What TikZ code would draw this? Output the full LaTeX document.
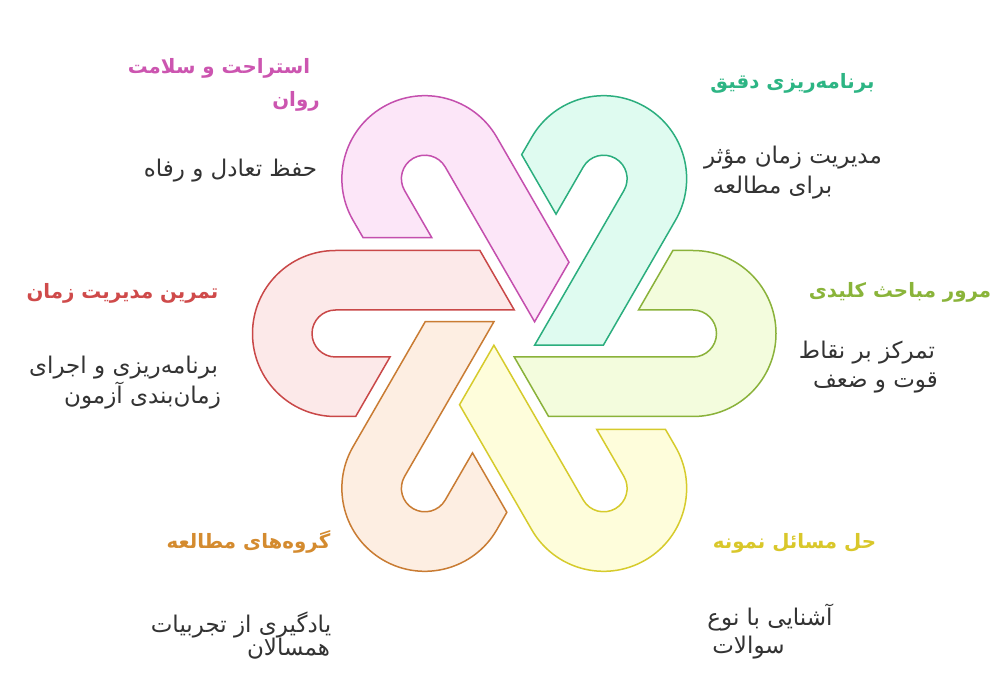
\documentclass[tikz,border=0pt]{standalone}
\usepackage{fontspec}
\newfontfamily\arabicfont[Script=Arabic]{DejaVu Sans}
\TeXXeTstate=1
\definecolor{pinkD}{HTML}{C44FAE}\definecolor{pinkF}{HTML}{FCE6F8}\definecolor{pinkT}{HTML}{CC55B0}
\definecolor{tealD}{HTML}{2BAE7E}\definecolor{tealF}{HTML}{DFFBF0}\definecolor{tealT}{HTML}{2DB584}
\definecolor{limeD}{HTML}{8AB23A}\definecolor{limeF}{HTML}{F3FCDD}\definecolor{limeT}{HTML}{8AB43A}
\definecolor{yelD}{HTML}{D6CB2C}\definecolor{yelF}{HTML}{FEFDDB}\definecolor{yelT}{HTML}{D9C72A}
\definecolor{oraD}{HTML}{C97C33}\definecolor{oraF}{HTML}{FDEEE2}\definecolor{oraT}{HTML}{D48B2F}
\definecolor{redD}{HTML}{C94848}\definecolor{redF}{HTML}{FCE9E9}\definecolor{redT}{HTML}{CF4A4A}
\definecolor{descC}{HTML}{333333}
\tikzset{
  hookband/.style={line width=1.5pt, line join=miter},
  ttl/.style={anchor=center, inner sep=0pt, font=\arabicfont\bfseries\fontsize{19.8}{24}\selectfont},
  dsc/.style={anchor=center, inner sep=0pt, text=descC, font=\arabicfont\fontsize{23}{27}\selectfont}
}
\newcommand{\hookpath}{(-178.75,83) -- (-34.35,83) -- (0,23.5) -- (-178.75,23.5)
  arc[start angle=90, end angle=270, radius=23.5] -- (-124.25,-23.5) -- (-158.6,-83) -- (-178.75,-83)
  arc[start angle=270, end angle=90, radius=83] -- cycle}
\begin{document}
\begin{tikzpicture}[x=1pt,y=1pt]
\useasboundingbox (0,0) rectangle (998,680);
\fill[white] (0,0) rectangle (998,680);
\begin{scope}[shift={(514.25,346.5)}]
  \begin{scope}[rotate=0]   \draw[hookband, draw=redD,  fill=redF]  \hookpath; \end{scope}
  \begin{scope}[rotate=-60] \draw[hookband, draw=pinkD, fill=pinkF] \hookpath; \end{scope}
  \begin{scope}[rotate=-120]\draw[hookband, draw=tealD, fill=tealF] \hookpath; \end{scope}
  \begin{scope}[rotate=180] \draw[hookband, draw=limeD, fill=limeF] \hookpath; \end{scope}
  \begin{scope}[rotate=120] \draw[hookband, draw=yelD,  fill=yelF]  \hookpath; \end{scope}
  \begin{scope}[rotate=60]  \draw[hookband, draw=oraD,  fill=oraF]  \hookpath; \end{scope}
\end{scope}
% pink
\node[ttl, text=pinkT] (pinkA) at (219,612) {\beginR استراحت و سلامت\endR};
\node[ttl, text=pinkT] (pinkB) at (296,579) {\beginR روان\endR};
\node[dsc] (pinkC) at (230.5,509) {\beginR حفظ تعادل و رفاه\endR};
% teal
\node[ttl, text=tealT] (tealA) at (792.5,597) {\beginR برنامه‌ریزی دقیق\endR};
\node[dsc] (tealB) at (793,522) {\beginR مدیریت زمان مؤثر\endR};
\node[dsc] (tealC) at (772.5,492) {\beginR برای مطالعه\endR};
% red
\node[ttl, text=redT] (redA) at (122.5,387) {\beginR تمرین مدیریت زمان\endR};
\node[dsc] (redB) at (123.5,312) {\beginR برنامه‌ریزی و اجرای\endR};
\node[dsc] (redC) at (142.5,284) {\beginR زمان‌بندی آزمون\endR};
% lime
\node[ttl, text=limeT] (limeA) at (900,388) {\beginR مرور مباحث کلیدی\endR};
\node[dsc] (limeB) at (867,327) {\beginR تمرکز بر نقاط\endR};
\node[dsc] (limeC) at (875.5,297) {\beginR قوت و ضعف\endR};
% orange
\node[ttl, text=oraT] (oraA) at (248.5,138) {\beginR گروه‌های مطالعه\endR};
\node[dsc] (oraB) at (241,55) {\beginR یادگیری از تجربیات\endR};
\node[dsc] (oraC) at (288.5,31) {\beginR همسالان\endR};
% yellow
\node[ttl, text=yelT] (yelA) at (794.5,137) {\beginR حل مسائل نمونه\endR};
\node[dsc] (yelB) at (770,62) {\beginR آشنایی با نوع\endR};
\node[dsc] (yelC) at (748.5,32) {\beginR سوالات\endR};
\end{tikzpicture}
\end{document}
